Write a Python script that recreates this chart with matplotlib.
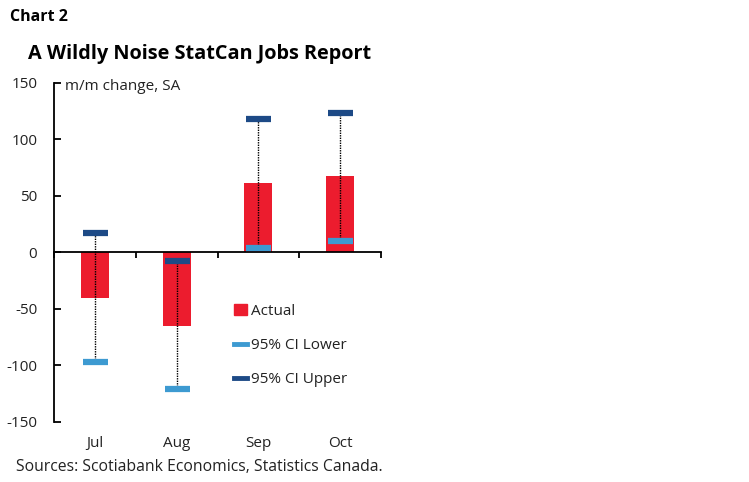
import matplotlib
matplotlib.use("Agg")
import matplotlib.pyplot as plt
from matplotlib.lines import Line2D
from matplotlib.patches import Patch

plt.rcParams['font.family'] = ['Open Sans', 'DejaVu Sans']
plt.rcParams['axes.unicode_minus'] = False

months = ["Jul", "Aug", "Sep", "Oct"]
actual = [-40.7, -65.2, 61.6, 67.3]
ci_lower = [-97.0, -121.3, 4.1, 10.0]
ci_upper = [16.8, -7.7, 117.7, 123.5]

red = '#EC1C2E'
light_blue = '#3D9AD1'
navy = '#1D4A86'
txt = '#222222'

fig = plt.figure(figsize=(7.49, 4.82), dpi=100)
ax = fig.add_axes([0.0721, 0.1249, 0.4366, 0.7033])

x = list(range(len(months)))
ax.bar(x, actual, width=0.34, color=red, zorder=2)
ax.vlines(x, ci_lower, ci_upper, colors='black', linestyles=(0, (1, 0.8)), lw=1.0, zorder=3)
ax.plot(x, ci_lower, linestyle='none', marker='_', ms=18, mew=4.5, color=light_blue, zorder=4)
ax.plot(x, ci_upper, linestyle='none', marker='_', ms=18, mew=4.5, color=navy, zorder=4)

ax.set_xlim(-0.5, 3.5)
ax.set_ylim(-150, 150)
ax.set_yticks([-150, -100, -50, 0, 50, 100, 150])
ax.tick_params(axis='y', direction='in', length=5, width=1.3, pad=12, labelsize=11, labelcolor=txt)

# zero line with category boundary ticks
ax.spines['bottom'].set_position(('data', 0))
ax.spines['bottom'].set_linewidth(1.3)
ax.spines['left'].set_linewidth(1.3)
ax.spines['top'].set_visible(False)
ax.spines['right'].set_visible(False)
ax.set_xticks([-0.5, 0.5, 1.5, 2.5, 3.5])
ax.set_xticklabels([])
ax.tick_params(axis='x', direction='out', length=4, width=1.3)

# month labels at the bottom
sec = ax.secondary_xaxis(0)
sec.set_xticks(x)
sec.set_xticklabels(months)
sec.tick_params(length=0, pad=10, labelsize=11, labelcolor=txt)
sec.spines['bottom'].set_visible(False)

ax.text(0.033, 0.988, 'm/m change, SA', transform=ax.transAxes, fontsize=11,
        color=txt, va='center', ha='left')

handles = [Patch(facecolor=red, edgecolor=red),
           Line2D([], [], color=light_blue, lw=3.5),
           Line2D([], [], color=navy, lw=3.5)]
fig.legend(handles, ['Actual', '95% CI Lower', '95% CI Upper'],
           loc='upper left', bbox_to_anchor=(0.313, 0.369), frameon=False,
           fontsize=11, handlelength=0.85, handleheight=0.75, handletextpad=0.25,
           labelspacing=1.25, borderaxespad=0, borderpad=0, labelcolor=txt)

fig.text(0.013, 0.965, 'Chart 2', fontsize=11.5, fontweight='bold', color='black', va='center')
fig.text(0.038, 0.888, 'A Wildly Noise StatCan Jobs Report', fontsize=14.3,
         fontweight='bold', color='black', va='center')
fig.text(0.021, 0.031, 'Sources: Scotiabank Economics, Statistics Canada.', fontsize=11.3,
         color=txt, va='center')

fig.savefig('out.png', dpi=100)
